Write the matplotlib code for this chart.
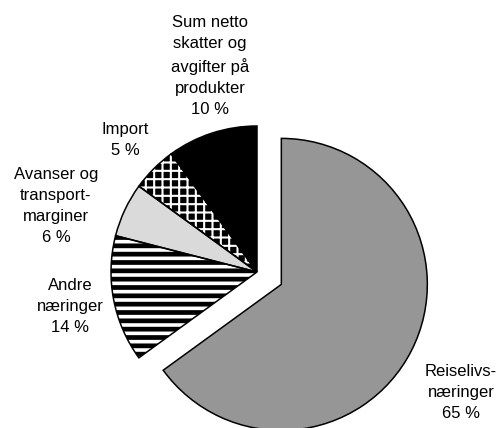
#!/usr/bin/env python3

import matplotlib
matplotlib.use("Agg")
import matplotlib.pyplot as plt
from matplotlib.patches import Wedge


FIGURE_WIDTH_PX = 501
FIGURE_HEIGHT_PX = 428
FIGURE_DPI = 100

# data, clockwise from 12 o'clock
LABELS = [
    "Reiselivs-\nnæringer",
    "Andre\nnæringer",
    "Avanser og\ntransport-\nmarginer",
    "Import",
    "Sum netto\nskatter og\navgifter på\nprodukter",
]
SHARES = [65, 14, 6, 5, 10]

# styling per slice
FACE_COLORS = ["#969696", "white", "#dadada", "black", "black"]
HATCHES = [None, "--", None, "++", None]
HATCH_COLORS = ["black", "black", "black", "white", "black"]
EXPLODE_FRACTION = [0.187, 0, 0, 0, 0]

# label positions in pixels (x, y from top)
LABEL_POS = [(461, 393), (70, 306), (56, 206), (125, 140), (210, 66)]

CENTER_PX = (257, 272)
RADIUS_PX = 146


def main() -> int:
    plt.rcParams["font.family"] = ["Liberation Sans", "DejaVu Sans"]
    plt.rcParams["hatch.linewidth"] = 3.0

    fig = plt.figure(
        figsize=(FIGURE_WIDTH_PX / FIGURE_DPI, FIGURE_HEIGHT_PX / FIGURE_DPI),
        dpi=FIGURE_DPI,
    )
    ax = fig.add_axes([0, 0, 1, 1])

    center = (CENTER_PX[0], FIGURE_HEIGHT_PX - CENTER_PX[1])
    # pie's explode is in data units, so scale by the radius
    explode = [f * RADIUS_PX for f in EXPLODE_FRACTION]
    wedges, _ = ax.pie(
        SHARES,
        explode=explode,
        startangle=90,
        counterclock=False,
        radius=RADIUS_PX,
        center=center,
        colors=FACE_COLORS,
        wedgeprops={"linewidth": 0},
    )

    for wedge, hatch, hcolor in zip(wedges, HATCHES, HATCH_COLORS):
        if hatch is None:
            continue
        wedge.set_hatch(hatch)
        wedge.set_edgecolor(hcolor)
        if hasattr(wedge, "set_hatch_linewidth"):
            wedge.set_hatch_linewidth(3.4 if hcolor == "black" else 1.5)

    # black outlines on top
    for wedge in wedges:
        ax.add_patch(Wedge(
            wedge.center, wedge.r, wedge.theta1, wedge.theta2,
            fill=False, edgecolor="black", linewidth=1.1,
        ))

    for label, share, (x, y) in zip(LABELS, SHARES, LABEL_POS):
        ax.text(
            x, FIGURE_HEIGHT_PX - y, f"{label}\n{share} %",
            ha="center", va="center", fontsize=12, linespacing=1.5,
        )

    ax.set_xlim(0, FIGURE_WIDTH_PX)
    ax.set_ylim(0, FIGURE_HEIGHT_PX)
    ax.set_aspect("equal")
    ax.axis("off")

    fig.savefig("out.png", dpi=FIGURE_DPI, facecolor="white")
    return 0


if __name__ == "__main__":
    raise SystemExit(main())
